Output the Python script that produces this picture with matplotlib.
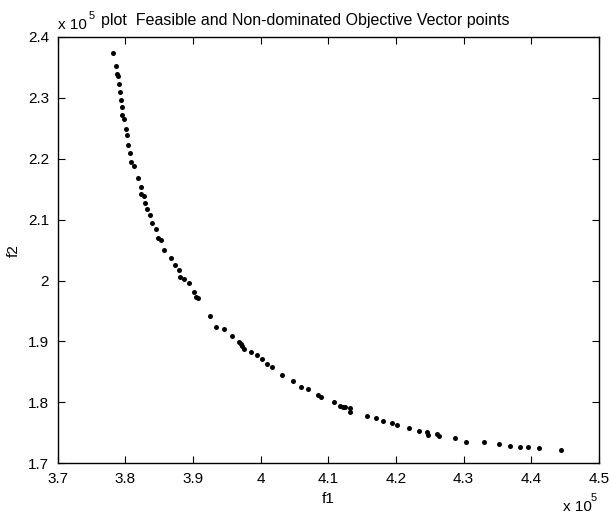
"""Pareto front plot: feasible and non-dominated objective vectors (f1 vs f2)"""
import numpy as np
import matplotlib; matplotlib.use('Agg'); import matplotlib.pyplot as plt

plt.rcParams['font.family'] = ['Liberation Sans', 'DejaVu Sans']

SCALE = 1e5

# objective values, in units of 1e5
f1 = np.array([
    3.7824, 3.7864, 3.7874, 3.7889, 3.7904, 3.7919, 3.7938, 3.7957, 3.7957, 3.7978,
    3.8016, 3.8031, 3.8037, 3.8066, 3.8090, 3.8126, 3.8185, 3.8233, 3.8238, 3.8273,
    3.8292, 3.8326, 3.8366, 3.8400, 3.8455, 3.8480, 3.8533, 3.8569, 3.8677, 3.8731,
    3.8790, 3.8809, 3.8864, 3.8938, 3.9012, 3.9046, 3.9080, 3.9248, 3.9341, 3.9455,
    3.9582, 3.9685, 3.9706, 3.9730, 3.9759, 3.9854, 3.9947, 4.0021, 4.0095, 4.0168,
    4.0316, 4.0483, 4.0592, 4.0700, 4.0852, 4.0892, 4.1084, 4.1177, 4.1213, 4.1242,
    4.1325, 4.1325, 4.1567, 4.1700, 4.1808, 4.1936, 4.2010, 4.2192, 4.2340, 4.2453,
    4.2468, 4.2610, 4.2640, 4.2871, 4.3038, 4.3295, 4.3521, 4.3684, 4.3832, 4.3954,
    4.4108, 4.4442])
f2 = np.array([
    2.3741, 2.3522, 2.3386, 2.3358, 2.3222, 2.3090, 2.2969, 2.2844, 2.2722, 2.2652,
    2.2493, 2.2389, 2.2230, 2.2089, 2.1941, 2.1880, 2.1678, 2.1535, 2.1415, 2.1392,
    2.1268, 2.1174, 2.1080, 2.0939, 2.0851, 2.0693, 2.0665, 2.0506, 2.0365, 2.0259,
    2.0177, 2.0057, 2.0030, 1.9954, 1.9806, 1.9734, 1.9708, 1.9422, 1.9236, 1.9199,
    1.9094, 1.8990, 1.8962, 1.8929, 1.8880, 1.8826, 1.8782, 1.8706, 1.8629, 1.8580,
    1.8443, 1.8355, 1.8251, 1.8213, 1.8115, 1.8082, 1.8005, 1.7944, 1.7928, 1.7918,
    1.7901, 1.7836, 1.7780, 1.7737, 1.7698, 1.7660, 1.7632, 1.7573, 1.7534, 1.7517,
    1.7468, 1.7475, 1.7447, 1.7409, 1.7348, 1.7348, 1.7310, 1.7287, 1.7266, 1.7266,
    1.7250, 1.7222])

xticks = [3.7, 3.8, 3.9, 4.0, 4.1, 4.2, 4.3, 4.4, 4.5]
xticklabels = ['3.7', '3.8', '3.9', '4', '4.1', '4.2', '4.3', '4.4', '4.5']
yticks = [1.7, 1.8, 1.9, 2.0, 2.1, 2.2, 2.3, 2.4]
yticklabels = ['1.7', '1.8', '1.9', '2', '2.1', '2.2', '2.3', '2.4']

W, H = 611, 515
fig = plt.figure(figsize=(W / 100, H / 100), dpi=100)
ax = fig.add_axes([57.5 / W, 1 - 463.2 / H, 541.5 / W, 426.2 / H])

ax.plot(f1, f2, 'o', color='black', ms=3.6, mew=0)

ax.set_xlim(3.7, 4.5)
ax.set_ylim(1.7, 2.4)
ax.set_xticks(xticks, xticklabels)
ax.set_yticks(yticks, yticklabels)
ax.tick_params(direction='in', length=5, width=0.8, top=True, right=True,
               labelsize=11, pad=6, colors='black')
for s in ax.spines.values():
    s.set_linewidth(1.0)

ax.set_xlabel('f1', fontsize=11, labelpad=5)
ax.set_ylabel('f2', fontsize=11)
ax.yaxis.set_label_coords(-0.068, 0.5)

# MATLAB-style exponent labels
fig.text(58 / W, 1 - 29 / H, 'x 10', fontsize=11, ha='left', va='baseline')
fig.text(89 / W, 1 - 19 / H, '5', fontsize=8, ha='left', va='baseline')
fig.text(563 / W, 1 - 511 / H, 'x 10', fontsize=11, ha='left', va='baseline')
fig.text(591 / W, 1 - 501 / H, '5', fontsize=8, ha='left', va='baseline')

fig.text(305 / W, 1 - 20 / H, 'plot  Feasible and Non-dominated Objective Vector points',
         fontsize=11.5, ha='center', va='center')

fig.savefig('out.png', dpi=100, facecolor='white')
plt.close()
